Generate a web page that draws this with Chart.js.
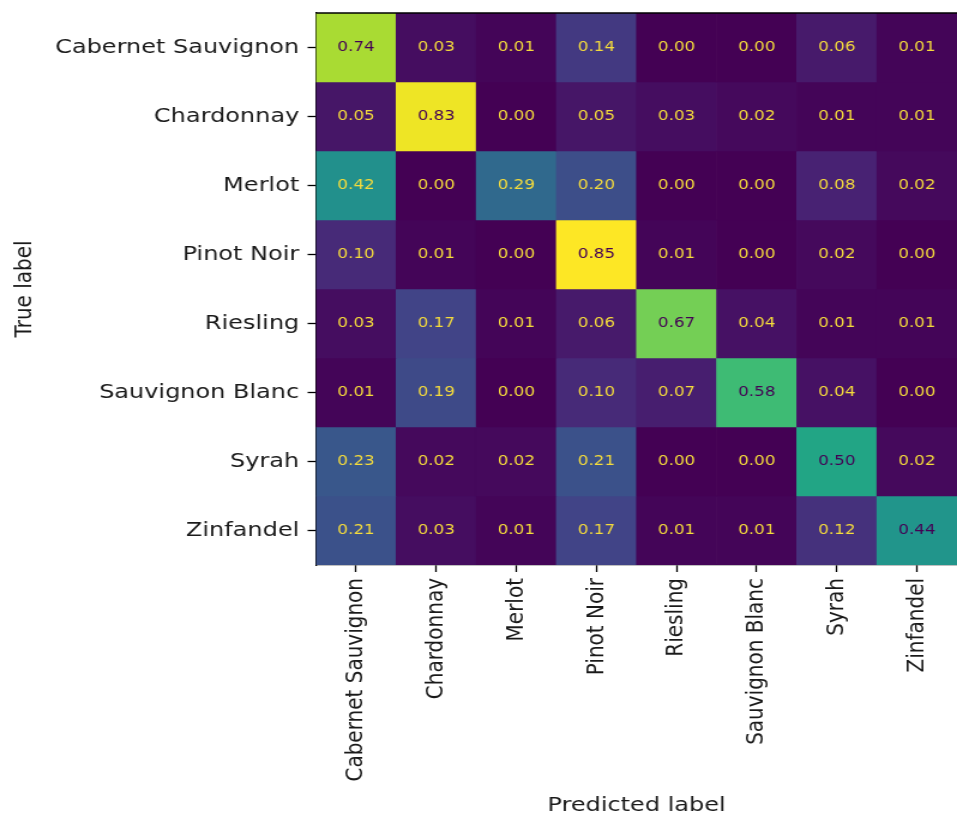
<!DOCTYPE html>
<html>
<head>
<meta charset="utf-8">
<title>Wine classifier – confusion matrix</title>
<script src="https://cdn.jsdelivr.net/npm/chart.js@4/dist/chart.umd.min.js"></script>
<style>
  html, body { margin: 0; padding: 0; background: #ffffff; overflow: hidden; }
  /* the figure is laid out narrow and widened horizontally */
  #wrap {
    width: 798px;
    height: 818px;
    transform: scaleX(1.19925);
    transform-origin: 0 0;
  }
</style>
</head>
<body>
<div id="wrap"><canvas id="cm"></canvas></div>
<script>
// Class names (used for both predicted and true axes)
const wineClasses = ['Cabernet Sauvignon', 'Chardonnay', 'Merlot', 'Pinot Noir',
                     'Riesling', 'Sauvignon Blanc', 'Syrah', 'Zinfandel'];

// Normalised confusion-matrix rows: one row per true class, columns = predicted class
const rowCabernetSauvignon = [0.74, 0.03, 0.01, 0.14, 0.00, 0.00, 0.06, 0.01];
const rowChardonnay        = [0.05, 0.83, 0.00, 0.05, 0.03, 0.02, 0.01, 0.01];
const rowMerlot            = [0.42, 0.00, 0.29, 0.20, 0.00, 0.00, 0.08, 0.02];
const rowPinotNoir         = [0.10, 0.01, 0.00, 0.85, 0.01, 0.00, 0.02, 0.00];
const rowRiesling          = [0.03, 0.17, 0.01, 0.06, 0.67, 0.04, 0.01, 0.01];
const rowSauvignonBlanc    = [0.01, 0.19, 0.00, 0.10, 0.07, 0.58, 0.04, 0.00];
const rowSyrah             = [0.23, 0.02, 0.02, 0.21, 0.00, 0.00, 0.50, 0.02];
const rowZinfandel         = [0.21, 0.03, 0.01, 0.17, 0.01, 0.01, 0.12, 0.44];

const matrixRows = [rowCabernetSauvignon, rowChardonnay, rowMerlot, rowPinotNoir,
                    rowRiesling, rowSauvignonBlanc, rowSyrah, rowZinfandel];

const axisTitleX = 'Predicted label';
const axisTitleY = 'True label';

// viridis colormap key colours
const VIRIDIS = ['#440154', '#482475', '#414487', '#355f8d', '#2a788e', '#21918c',
                 '#22a884', '#44bf70', '#7ad151', '#bddf26', '#fde725'];

function hexToRgb(h) {
  return [parseInt(h.slice(1, 3), 16), parseInt(h.slice(3, 5), 16), parseInt(h.slice(5, 7), 16)];
}
function viridis(t) {
  t = Math.max(0, Math.min(1, t));
  const pos = t * (VIRIDIS.length - 1);
  const i = Math.min(Math.floor(pos), VIRIDIS.length - 2);
  const f = pos - i;
  const a = hexToRgb(VIRIDIS[i]), b = hexToRgb(VIRIDIS[i + 1]);
  const c = a.map((v, k) => Math.round(v + (b[k] - v) * f));
  return `rgb(${c[0]},${c[1]},${c[2]})`;
}

const allValues = matrixRows.flat();
const vmin = Math.min(...allValues);
const vmax = Math.max(...allValues);
const colourFor = v => viridis((v - vmin) / (vmax - vmin));
const threshold = (vmin + vmax) / 2;

const FONT = "'DejaVu Sans', 'Liberation Sans', sans-serif";
const INK = '#1a1a1a';

// each true-class row becomes one dataset of floating bars spanning [r, r+1]
const datasets = matrixRows.map((row, r) => ({
  label: wineClasses[r],
  data: row.map(() => [r, r + 1]),
  values: row,
  backgroundColor: row.map(colourFor),
  borderWidth: 0,
  barPercentage: 1.0,
  categoryPercentage: 1.0,
  grouped: false
}));

// draws the value of every cell at its centre
const cellValuesPlugin = {
  id: 'cellValues',
  afterDatasetsDraw(chart) {
    const ctx = chart.ctx;
    ctx.save();
    ctx.font = `14px ${FONT}`;
    ctx.textAlign = 'center';
    ctx.textBaseline = 'middle';
    chart.data.datasets.forEach((ds, di) => {
      const meta = chart.getDatasetMeta(di);
      meta.data.forEach((bar, i) => {
        const v = ds.values[i];
        ctx.fillStyle = v < threshold ? '#f5dc3c' : '#440154';
        ctx.fillText(v.toFixed(2), bar.x, (bar.y + bar.base) / 2);
      });
    });
    ctx.restore();
  }
};

// white figure background and the top frame line
const framePlugin = {
  id: 'frame',
  beforeDraw(chart) {
    const ctx = chart.ctx;
    ctx.save();
    ctx.fillStyle = '#ffffff';
    ctx.fillRect(0, 0, chart.width, chart.height);
    ctx.restore();
  },
  afterDraw(chart) {
    const {left, right, top} = chart.chartArea;
    const ctx = chart.ctx;
    ctx.save();
    ctx.strokeStyle = '#000000';
    ctx.lineWidth = 1.3;
    ctx.beginPath();
    ctx.moveTo(left, top);
    ctx.lineTo(right, top);
    ctx.stroke();
    ctx.restore();
  }
};

new Chart(document.getElementById('cm'), {
  type: 'bar',
  data: { labels: wineClasses, datasets },
  plugins: [cellValuesPlugin, framePlugin],
  options: {
    responsive: true,
    maintainAspectRatio: false,
    animation: false,
    layout: { padding: { top: 13, right: 0, bottom: 0, left: 0 } },
    plugins: {
      legend: { display: false },
      tooltip: { enabled: false }
    },
    scales: {
      x: {
        type: 'category',
        offset: true,
        grid: {
          offset: false,
          drawOnChartArea: false,
          drawTicks: true,
          tickLength: 7,
          tickWidth: 1.3,
          tickColor: '#000000'
        },
        border: { display: true, color: '#000000', width: 1.3 },
        ticks: {
          autoSkip: false,
          minRotation: 90,
          maxRotation: 90,
          padding: 6,
          color: INK,
          font: { family: FONT, size: 20 }
        },
        title: {
          display: true,
          text: axisTitleX,
          color: INK,
          font: { family: FONT, size: 20, lineHeight: 1.2 },
          padding: { top: 0, bottom: 0 }
        },
        afterFit(scale) {
          scale.height = 253;
          scale.paddingLeft = 0;
          scale.paddingRight = 0;
        }
      },
      y: {
        type: 'linear',
        reverse: true,
        min: 0,
        max: wineClasses.length,
        afterBuildTicks(scale) {
          scale.ticks = wineClasses.map((_, i) => ({ value: i + 0.5 }));
        },
        grid: {
          drawOnChartArea: false,
          drawTicks: true,
          tickLength: 7,
          tickWidth: 1.3,
          tickColor: '#000000'
        },
        border: { display: true, color: '#000000', width: 1.3 },
        ticks: {
          autoSkip: false,
          padding: 7,
          color: INK,
          font: { family: FONT, size: 20 },
          callback: (value, index) => wineClasses[index]
        },
        title: {
          display: true,
          text: axisTitleY,
          color: INK,
          font: { family: FONT, size: 20, lineHeight: 1.2 },
          padding: { top: 9, bottom: 0 }
        },
        afterFit(scale) {
          scale.width = 263.5;
          scale.paddingTop = 0;
          scale.paddingBottom = 0;
        }
      }
    }
  }
});
</script>
</body>
</html>
